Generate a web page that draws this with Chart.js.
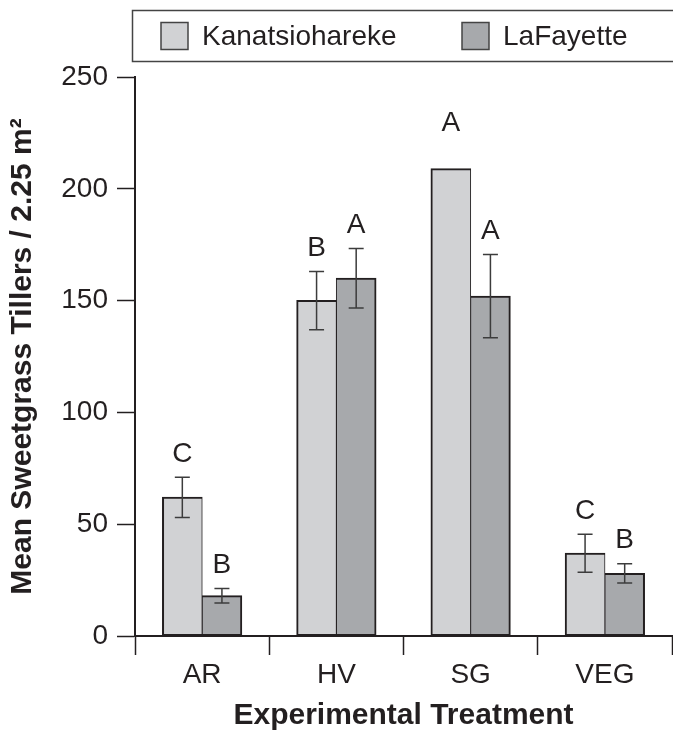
<!DOCTYPE html>
<html>
<head>
<meta charset="utf-8">
<script src="https://cdn.jsdelivr.net/npm/chart.js@4"></script>
<style>
  html, body { margin: 0; padding: 0; background: #fff; }
  #wrap { width: 673px; height: 736px; position: relative; }
</style>
</head>
<body>
<div id="wrap"><canvas id="tillerChart"></canvas></div>
<script>
// values
const categories = ['AR', 'HV', 'SG', 'VEG'];
const seriesNames = ['Kanatsiohareke', 'LaFayette'];
const kanatsiohareke = [62, 150, 209, 37];
const lafayette = [18, 160, 152, 28];
const kanatsiohareke_se = [9, 13, null, 8.5];
const lafayette_se = [3.2, 13.3, 18.6, 4.3];
const kanatsiohareke_letters = ['C', 'B', 'A', 'C'];
const lafayette_letters = ['B', 'A', 'A', 'B'];
const yTicks = [0, 50, 100, 150, 200, 250];

const INK = '#231f20';
const FONT = "'Liberation Sans', Arial, sans-serif";

// error bars + significance letters
const errorBarPlugin = {
    id: 'errorBars',
    afterDatasetsDraw(chart) {
        const ctx = chart.ctx;
        const y = chart.scales.y;
        ctx.save();
        chart.data.datasets.forEach((ds, di) => {
            const meta = chart.getDatasetMeta(di);
            meta.data.forEach((bar, i) => {
                const v = ds.data[i];
                const e = ds.errors[i];
                let topPx;
                if (e != null) {
                    const hi = y.getPixelForValue(v + e);
                    const lo = y.getPixelForValue(v - e);
                    ctx.strokeStyle = '#3c3c3c';
                    ctx.lineWidth = 1.5;
                    ctx.beginPath();
                    ctx.moveTo(bar.x, hi); ctx.lineTo(bar.x, lo);
                    ctx.moveTo(bar.x - 7.5, hi); ctx.lineTo(bar.x + 7.5, hi);
                    ctx.moveTo(bar.x - 7.5, lo); ctx.lineTo(bar.x + 7.5, lo);
                    ctx.stroke();
                    topPx = hi - 23;
                } else {
                    topPx = y.getPixelForValue(v) - 45;
                }
                ctx.fillStyle = INK;
                ctx.font = '28px ' + FONT;
                ctx.textAlign = 'center';
                ctx.textBaseline = 'middle';
                ctx.fillText(ds.letters[i], bar.x, topPx);
            });
        });
        ctx.restore();
    }
};

// boxed legend at the top
const boxLegendPlugin = {
    id: 'boxLegend',
    afterDraw(chart) {
        const ctx = chart.ctx;
        ctx.save();
        ctx.strokeStyle = '#444';
        ctx.lineWidth = 1.5;
        ctx.strokeRect(132.5, 10.5, 560, 51);
        const itemX = [161, 462];
        chart.data.datasets.forEach((ds, i) => {
            ctx.fillStyle = ds.backgroundColor;
            ctx.fillRect(itemX[i], 22.5, 27, 27);
            ctx.strokeStyle = '#444';
            ctx.lineWidth = 1.5;
            ctx.strokeRect(itemX[i], 22.5, 27, 27);
            ctx.fillStyle = INK;
            ctx.font = '28px ' + FONT;
            ctx.textAlign = 'left';
            ctx.textBaseline = 'middle';
            ctx.fillText(ds.label, itemX[i] + 41, 37);
        });
        ctx.restore();
    }
};

const ctx = document.getElementById('tillerChart').getContext('2d');
const tillerChart = new Chart(ctx, {
    type: 'bar',
    data: {
        labels: categories,
        datasets: [{
            label: seriesNames[0],
            data: kanatsiohareke,
            errors: kanatsiohareke_se,
            letters: kanatsiohareke_letters,
            backgroundColor: '#d1d2d4',
            borderColor: INK,
            borderWidth: { top: 2, left: 2, bottom: 2, right: 1 },
            borderSkipped: false
        }, {
            label: seriesNames[1],
            data: lafayette,
            errors: lafayette_se,
            letters: lafayette_letters,
            backgroundColor: '#a7a9ac',
            borderColor: INK,
            borderWidth: { top: 2, left: 1, bottom: 2, right: 2 },
            borderSkipped: false
        }]
    },
    options: {
        responsive: true,
        maintainAspectRatio: false,
        animation: false,
        layout: { padding: { top: 77, right: 1, left: 0, bottom: 0 } },
        datasets: { bar: { categoryPercentage: 0.59, barPercentage: 1.0, inflateAmount: 0.5 } },
        plugins: {
            legend: { display: false },
            tooltip: { enabled: false }
        },
        scales: {
            x: {
                grid: {
                    display: true,
                    offset: true,
                    drawOnChartArea: false,
                    drawTicks: true,
                    tickLength: 19,
                    tickWidth: 1.5,
                    tickColor: INK
                },
                border: { display: true, color: INK, width: 2 },
                ticks: {
                    color: INK,
                    font: { family: FONT, size: 28 },
                    padding: 3
                },
                title: {
                    display: true,
                    text: 'Experimental Treatment',
                    color: INK,
                    font: { family: FONT, size: 30, weight: 'bold' },
                    padding: { top: 0, bottom: 2 }
                },
                afterFit(scale) { scale.height = 100; }
            },
            y: {
                min: 0,
                max: 250,
                afterBuildTicks(scale) {
                    scale.ticks = yTicks.map(v => ({ value: v }));
                },
                grid: {
                    display: true,
                    drawOnChartArea: false,
                    drawTicks: true,
                    tickLength: 18,
                    tickWidth: 1.5,
                    tickColor: INK
                },
                border: { display: true, color: INK, width: 2 },
                ticks: {
                    color: INK,
                    font: { family: FONT, size: 28 },
                    padding: 9
                },
                title: {
                    display: true,
                    text: 'Mean Sweetgrass Tillers / 2.25 m\u00b2',
                    color: INK,
                    font: { family: FONT, size: 30, weight: 'bold' },
                    padding: { top: 5, bottom: 0 }
                },
                afterFit(scale) { scale.width = 135; }
            }
        }
    },
    plugins: [errorBarPlugin, boxLegendPlugin]
});
</script>
</body>
</html>
